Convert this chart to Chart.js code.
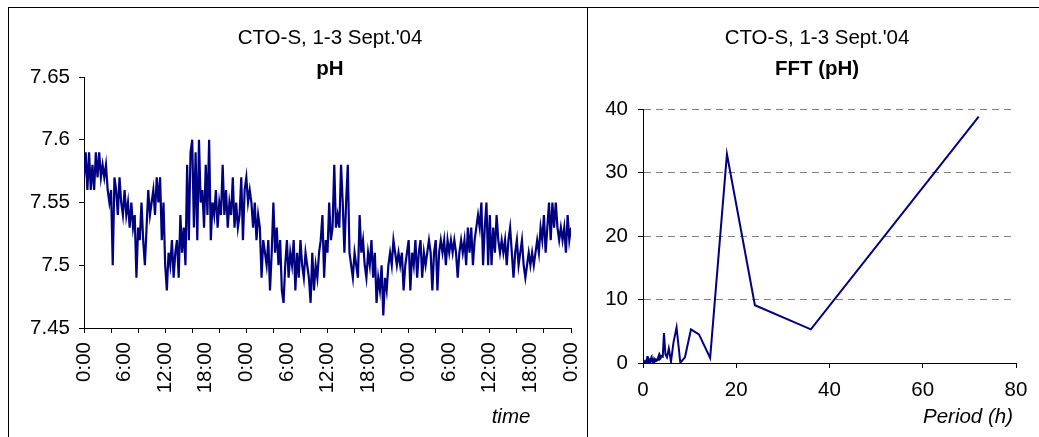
<!DOCTYPE html>
<html>
<head>
<meta charset="utf-8">
<script src="https://cdn.jsdelivr.net/npm/chart.js@4.4.1/dist/chart.umd.min.js"></script>
<style>
  body { margin: 0; background: #fff; overflow: hidden; width: 1039px; height: 437px; position: relative; }
  .frameLeft { position: absolute; left: 8px; top: 7px; width: 578px; height: 450px;
    border-left: 1px solid #000; border-top: 1px solid #000; border-right: 1px solid #000; }
  .frameRight { position: absolute; left: 587px; top: 7px; width: 460px; height: 450px; border-top: 1px solid #000; }
  canvas { position: absolute; }
  #phChart { left: 9px; top: 8px; }
  #fftChart { left: 589px; top: 8px; }
</style>
</head>
<body>
<div class="frameLeft"></div>
<div class="frameRight"></div>
<canvas id="phChart" width="578" height="429"></canvas>
<canvas id="fftChart" width="450" height="429"></canvas>
<script>
// pH readings, one every 15 minutes, 1-3 Sept. (one row per hour)
const sampleStepHours = 0.25;
const phValues = [
  7.57, 7.59, 7.56, 7.59,
  7.56, 7.58, 7.56, 7.59,
  7.57, 7.59, 7.57, 7.58,
  7.57, 7.58, 7.56, 7.55,
  7.56, 7.50, 7.57, 7.56,
  7.54, 7.57, 7.55, 7.54,
  7.56, 7.54, 7.55, 7.53,
  7.55, 7.53, 7.54, 7.49,
  7.53, 7.52, 7.55, 7.52,
  7.50, 7.53, 7.56, 7.54,
  7.55, 7.56, 7.54, 7.57,
  7.55, 7.57, 7.52, 7.55,
  7.50, 7.48, 7.51, 7.50,
  7.52, 7.49, 7.51, 7.52,
  7.49, 7.54, 7.51, 7.53,
  7.50, 7.58, 7.52, 7.59,
  7.60, 7.53, 7.59, 7.52,
  7.60, 7.55, 7.56, 7.53,
  7.58, 7.54, 7.60, 7.52,
  7.55, 7.54, 7.56, 7.53,
  7.55, 7.54, 7.58, 7.54,
  7.56, 7.53, 7.55, 7.54,
  7.57, 7.53, 7.55, 7.53,
  7.54, 7.57, 7.52, 7.56,
  7.57, 7.55, 7.56, 7.55,
  7.53, 7.55, 7.52, 7.54,
  7.53, 7.49, 7.52, 7.51,
  7.50, 7.52, 7.48, 7.51,
  7.55, 7.51, 7.53, 7.50,
  7.52, 7.48, 7.47, 7.50,
  7.52, 7.49, 7.51, 7.50,
  7.52, 7.48, 7.51, 7.49,
  7.52, 7.50, 7.49, 7.51,
  7.50, 7.49, 7.47, 7.51,
  7.48, 7.50, 7.49, 7.51,
  7.52, 7.54, 7.49, 7.52,
  7.51, 7.55, 7.52, 7.53,
  7.58, 7.53, 7.54, 7.53,
  7.58, 7.55, 7.51, 7.55,
  7.58, 7.51, 7.50, 7.49,
  7.51, 7.50, 7.49, 7.54,
  7.51, 7.52, 7.50, 7.49,
  7.51, 7.50, 7.52, 7.49,
  7.51, 7.47, 7.49, 7.48,
  7.50, 7.46, 7.49, 7.48,
  7.50, 7.51, 7.50, 7.52,
  7.51, 7.50, 7.51, 7.50,
  7.51, 7.48, 7.50, 7.51,
  7.52, 7.48, 7.51, 7.50,
  7.52, 7.49, 7.51, 7.52,
  7.49, 7.51, 7.50, 7.51,
  7.52, 7.51, 7.48, 7.51,
  7.52, 7.48, 7.51, 7.52,
  7.51, 7.52, 7.50, 7.52,
  7.51, 7.52, 7.51, 7.52,
  7.51, 7.49, 7.51, 7.52,
  7.51, 7.52, 7.50, 7.53,
  7.51, 7.53, 7.50, 7.52,
  7.53, 7.54, 7.53, 7.55,
  7.50, 7.53, 7.55, 7.50,
  7.54, 7.50, 7.53, 7.51,
  7.54, 7.52, 7.51, 7.52,
  7.51, 7.52, 7.50, 7.52,
  7.53, 7.51, 7.49, 7.51,
  7.52, 7.50, 7.51, 7.52,
  7.50, 7.49, 7.50, 7.51,
  7.50, 7.51, 7.50, 7.51,
  7.52, 7.51, 7.53, 7.52,
  7.54, 7.51, 7.53, 7.55,
  7.52, 7.55, 7.53, 7.55,
  7.53, 7.52, 7.53, 7.52,
  7.53, 7.51, 7.54, 7.52,
  7.53
];
const timeLabels = ['0:00', '6:00', '12:00', '18:00', '0:00', '6:00', '12:00', '18:00', '0:00', '6:00', '12:00', '18:00', '0:00'];
const phTicks = [7.45, 7.5, 7.55, 7.6, 7.65];

// FFT of the pH series: period (h) and amplitude
const fftPeriod = [72, 36, 24, 18, 14.4, 12, 10.29, 9, 8, 7.2,
  6.55, 6, 5.54, 5.14, 4.8, 4.5, 4.24, 4, 3.79, 3.6,
  3.43, 3.27, 3.13, 3, 2.88, 2.77, 2.67, 2.57, 2.48, 2.4,
  2.32, 2.25, 2.18, 2.12, 2.06, 2, 1.89, 1.8, 1.71, 1.64,
  1.57, 1.5, 1.44, 1.38, 1.33, 1.29, 1.24, 1.2, 1.16, 1.13,
  1.09, 1.06, 1.03, 1, 0.96, 0.92, 0.89, 0.86, 0.83, 0.8,
  0.77, 0.75, 0.72, 0.7, 0.67, 0.65, 0.63, 0.6, 0.57, 0.55,
  0.53, 0.51, 0.5, 0.45, 0.4, 0.36, 0.33, 0.3, 0.27, 0.25, 0.22, 0.2];
const fftValue = [38.8, 5.3, 9.1, 32.9, 0.8, 4.5, 5.3, 0.9, 0.05, 5.6,
  3.3, 0.2, 2.3, 0.9, 1.4, 4.7, 1.0, 1.1, 0.8, 1.2,
  0.5, 0.9, 0.6, 0.4, 0.7, 0.3, 0.5, 0.6, 0.2, 0.4,
  0.5, 0.3, 0.6, 0.2, 0.4, 0.5, 0.3, 0.6, 0.4, 0.2,
  0.5, 0.3, 0.4, 0.7, 0.3, 0.2, 0.5, 0.4, 0.3, 0.6,
  0.2, 0.4, 0.3, 0.5, 0.4, 0.8, 0.6, 1.1, 0.5, 0.3,
  0.4, 0.2, 0.5, 0.3, 0.4, 0.2, 0.3, 0.5, 0.2, 0.4,
  0.3, 0.2, 0.3, 0.3, 0.2, 0.4, 0.2, 0.3, 0.2, 0.1, 0.2, 0.1];

Chart.defaults.font.family = "'Liberation Sans', Arial, sans-serif";
Chart.defaults.font.size = 20.5;
Chart.defaults.color = '#000';

const FONT = "'Liberation Sans', Arial, sans-serif";
const lineColor = '#000080';

// draws titles and axis captions at fixed spots, like the original sheet
const panelText = {
  id: 'panelText',
  afterDraw(chart, args, opts) {
    const ctx = chart.ctx;
    ctx.save();
    ctx.fillStyle = '#000';
    ctx.textBaseline = 'alphabetic';
    opts.items.forEach(it => {
      ctx.font = it.font;
      ctx.textAlign = it.align || 'center';
      ctx.fillText(it.text, it.x, it.y);
    });
    ctx.restore();
  }
};

const phPoints = phValues.map((v, i) => ({ x: i * sampleStepHours, y: v }));

const chart1 = new Chart(document.getElementById('phChart'), {
  type: 'line',
  data: {
    datasets: [{
      data: phPoints,
      borderColor: lineColor,
      borderWidth: 2.2,
      pointRadius: 0,
      tension: 0,
      fill: false
    }]
  },
  options: {
    responsive: false,
    animation: false,
    layout: { padding: { left: 0, right: 16, top: 69, bottom: 0 } },
    plugins: {
      legend: { display: false },
      tooltip: { enabled: false },
      panelText: {
        items: [
          { text: "CTO-S, 1-3 Sept.'04", x: 321, y: 36, font: '20.5px ' + FONT },
          { text: 'pH', x: 321, y: 67, font: 'bold 20.5px ' + FONT },
          { text: 'time', x: 502, y: 415, font: 'italic 20.5px ' + FONT }
        ]
      }
    },
    scales: {
      x: {
        type: 'linear',
        min: 0,
        max: 72,
        afterFit(axis) {
          axis.height = 109;
          axis.paddingLeft = 0;
          axis.paddingRight = 0;
        },
        ticks: {
          stepSize: 2,
          autoSkip: false,
          minRotation: 90,
          maxRotation: 90,
          padding: 9,
          callback: v => (v % 6 === 0 ? timeLabels[v / 6] : '')
        },
        grid: {
          drawOnChartArea: false,
          tickLength: 5,
          color: c => (c.tick && c.tick.value % 4 === 0 ? '#000' : 'rgba(0,0,0,0)'),
          tickColor: c => (c.tick && c.tick.value % 4 === 0 ? '#000' : 'rgba(0,0,0,0)')
        },
        border: { color: '#000', width: 1 }
      },
      y: {
        min: 7.45,
        max: 7.65,
        afterFit(axis) { axis.width = 75; },
        afterBuildTicks(axis) { axis.ticks = phTicks.map(v => ({ value: v })); },
        ticks: {
          padding: 9,
          callback: v => String(Math.round(v * 100) / 100)
        },
        grid: { drawOnChartArea: false, tickLength: 5, color: '#000' },
        border: { color: '#000', width: 1 }
      }
    }
  },
  plugins: [panelText]
});

const fftPoints = fftPeriod.map((p, i) => ({ x: p, y: fftValue[i] }));

const chart2 = new Chart(document.getElementById('fftChart'), {
  type: 'line',
  data: {
    datasets: [{
      data: fftPoints,
      borderColor: lineColor,
      borderWidth: 2,
      pointRadius: 0,
      tension: 0,
      fill: false
    }]
  },
  options: {
    responsive: false,
    animation: false,
    layout: { padding: { left: 0, right: 23, top: 101, bottom: 0 } },
    plugins: {
      legend: { display: false },
      tooltip: { enabled: false },
      panelText: {
        items: [
          { text: "CTO-S, 1-3 Sept.'04", x: 228, y: 36, font: '20.5px ' + FONT },
          { text: 'FFT (pH)', x: 228, y: 67, font: 'bold 20.5px ' + FONT },
          { text: 'Period (h)', x: 424, y: 415, font: 'italic 20.5px ' + FONT, align: 'right' }
        ]
      }
    },
    scales: {
      x: {
        type: 'linear',
        min: 0,
        max: 80,
        afterFit(axis) { axis.height = 74; },
        ticks: { stepSize: 20, padding: 10, maxRotation: 0 },
        grid: { drawOnChartArea: false, tickLength: 5, color: '#000' },
        border: { color: '#000', width: 1 }
      },
      y: {
        min: 0,
        max: 40,
        afterFit(axis) { axis.width = 54; },
        ticks: { stepSize: 10, padding: 10 },
        grid: {
          tickLength: 5,
          color: c => (c.tick && c.tick.value === 0 ? 'rgba(0,0,0,0)' : '#808080'),
          tickColor: '#000'
        },
        border: { color: '#000', width: 1, dash: [7, 5] }
      }
    }
  },
  plugins: [panelText]
});
</script>
</body>
</html>
